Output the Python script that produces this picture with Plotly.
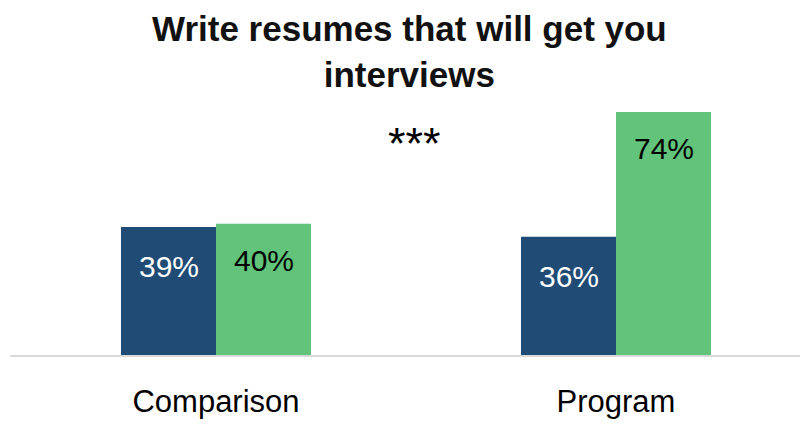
import plotly.graph_objects as go

categories = ["Comparison", "Program"]
comparison_group = [39, 36]
program_group = [40, 74]
labels_blue = ["39%", "36%"]
labels_green = ["40%", "74%"]
title_text = "Write resumes that will get you<br>interviews"
sig_text = "***"

FONT = "Liberation Sans, Arial, sans-serif"
BLUE = "#1F4B75"
GREEN = "#62C47A"

fig = go.Figure()
fig.add_trace(go.Bar(x=categories, y=comparison_group, marker_color=BLUE,
                     marker_line_width=0, hoverinfo="skip"))
fig.add_trace(go.Bar(x=categories, y=program_group, marker_color=GREEN,
                     marker_line_width=0, hoverinfo="skip"))

annos = []
for i, c in enumerate(categories):
    annos.append(dict(x=c, y=comparison_group[i], text=labels_blue[i], showarrow=False,
                      xshift=-47, yshift=-40, yanchor="middle",
                      font=dict(family=FONT, size=30, color="white")))
    annos.append(dict(x=c, y=program_group[i], text=labels_green[i], showarrow=False,
                      xshift=48, yshift=-37, yanchor="middle",
                      font=dict(family=FONT, size=30, color="black")))
annos.append(dict(x=0.5, y=64.5, text=sig_text, showarrow=False, xref="x", yref="y",
                  xshift=-2, yanchor="middle",
                  font=dict(family=FONT, size=45, color="black")))
annos.append(dict(x=0.5, y=1, xref="paper", yref="paper", text=title_text,
                  showarrow=False, xanchor="center", yanchor="bottom", yshift=4,
                  font=dict(family=FONT, size=35, color="#111111", weight="bold")))

fig.update_layout(
    width=800, height=416,
    margin=dict(l=2, r=0, t=92, b=69, autoexpand=False),
    paper_bgcolor="white", plot_bgcolor="white",
    barmode="group", bargap=0.525, bargroupgap=0,
    showlegend=False,
    annotations=annos,
    xaxis=dict(range=[-0.515, 1.48], showgrid=False, zeroline=False,
               showline=True, linecolor="#D9D9D9", linewidth=2,
               ticks="", ticklabelstandoff=18, automargin=False,
               tickfont=dict(family=FONT, size=31, color="black")),
    yaxis=dict(range=[0, 77.65], visible=False, automargin=False),
)

fig.write_html("out.html")
